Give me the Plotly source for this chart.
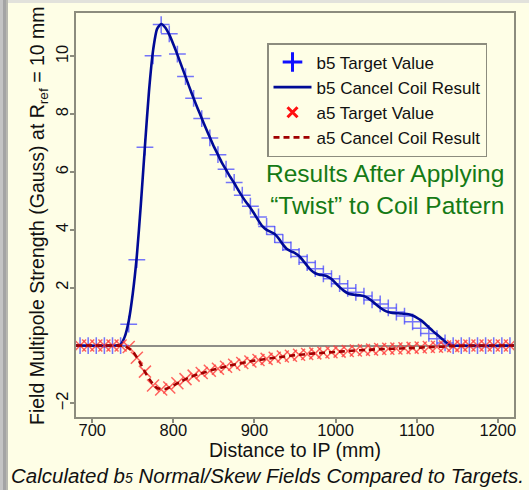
import plotly.graph_objects as go

# Sample positions of the target values (mm from IP)
target_z = [685, 695, 705, 715, 725, 735, 745, 755, 765, 775, 785, 795, 805, 815,
            825, 835, 845, 855, 865, 875, 885, 895, 905, 915, 925, 935, 945, 955,
            965, 975, 985, 995, 1005, 1015, 1025, 1035, 1045, 1055, 1065, 1075,
            1085, 1095, 1105, 1115, 1125, 1135, 1145, 1155, 1165, 1175, 1185,
            1195, 1205, 1215]

# Normal (b5) target values, Gauss
b5_target = [0, 0, 0, 0, 0, 0, 0.74, 2.97, 6.86, 10.02, 11.1, 10.78, 10.08, 9.3,
             8.55, 7.85, 7.18, 6.6, 6.1, 5.64, 5.2, 4.82, 4.45, 4.12, 3.84, 3.56,
             3.31, 3.08, 2.87, 2.66, 2.48, 2.31, 2.14, 1.98, 1.84, 1.71, 1.58, 1.44,
             1.3, 1.16, 1.02, 0.82, 0.6, 0.42, 0.24, 0.09, 0, 0, 0, 0, 0, 0, 0, 0]

# Skew (a5) target values, Gauss
a5_target = [0, 0, 0, 0, 0, 0, -0.05, -0.42, -0.9, -1.38, -1.52, -1.45, -1.3, -1.16,
             -1.04, -0.95, -0.87, -0.8, -0.73, -0.66, -0.6, -0.55, -0.5, -0.46, -0.42,
             -0.38, -0.35, -0.32, -0.29, -0.27, -0.25, -0.23, -0.21, -0.19, -0.17,
             -0.15, -0.14, -0.12, -0.11, -0.1, -0.09, -0.08, -0.07, -0.05, -0.04,
             -0.03, -0.02, -0.01, 0, 0, 0, 0, 0, 0]

# b5 produced by the cancel coil
b5_coil_z = [680, 730, 735, 740, 745, 750, 755, 760, 765, 770, 775, 780, 785, 790,
             795, 800, 805, 810, 815, 820, 825, 830, 835, 840, 845, 850, 855, 860,
             865, 870, 875, 880, 885, 890, 895, 900, 905, 910, 915, 920, 925, 930,
             935, 940, 945, 950, 955, 960, 965, 970, 975, 980, 985, 990, 995, 1000,
             1005, 1010, 1015, 1020, 1025, 1030, 1035, 1040, 1045, 1050, 1055, 1060,
             1065, 1070, 1075, 1080, 1085, 1090, 1095, 1100, 1105, 1110, 1115, 1120,
             1125, 1130, 1135, 1140, 1145, 1220]
b5_coil = [0, 0, 0.04, 0.3, 0.85, 1.8, 3.1, 4.9, 6.9, 8.8, 10.2, 10.95, 11.12, 11.0,
           10.75, 10.42, 10.06, 9.68, 9.3, 8.92, 8.55, 8.2, 7.86, 7.52, 7.2, 6.88,
           6.6, 6.32, 6.08, 5.84, 5.62, 5.38, 5.15, 4.95, 4.77, 4.55, 4.32, 4.12,
           4.0, 3.93, 3.86, 3.7, 3.5, 3.34, 3.26, 3.2, 3.1, 2.94, 2.76, 2.6, 2.5,
           2.45, 2.43, 2.39, 2.3, 2.16, 2.02, 1.9, 1.81, 1.77, 1.75, 1.74, 1.71,
           1.64, 1.54, 1.42, 1.31, 1.22, 1.16, 1.13, 1.12, 1.11, 1.1, 1.08, 1.04,
           0.97, 0.88, 0.76, 0.63, 0.5, 0.38, 0.26, 0.14, 0.04, 0, 0]

# a5 produced by the cancel coil
a5_coil_z = [680, 690, 700, 710, 720, 730, 740, 750, 760, 770, 780, 790, 800, 810,
             820, 830, 840, 850, 860, 870, 880, 890, 900, 910, 920, 930, 940, 950,
             960, 970, 980, 990, 1000, 1010, 1020, 1030, 1040, 1050, 1060, 1070,
             1080, 1090, 1100, 1110, 1120, 1130, 1140, 1150, 1160, 1170, 1180, 1190,
             1200, 1210, 1220]
a5_coil = [0, 0, 0, 0, 0, 0, -0.02, -0.2, -0.65, -1.15, -1.47, -1.5, -1.38, -1.23,
           -1.1, -1.0, -0.91, -0.83, -0.76, -0.69, -0.63, -0.57, -0.52, -0.48, -0.44,
           -0.4, -0.37, -0.33, -0.31, -0.28, -0.26, -0.24, -0.22, -0.2, -0.18, -0.16,
           -0.15, -0.13, -0.12, -0.11, -0.1, -0.09, -0.08, -0.06, -0.05, -0.04, -0.02,
           -0.01, 0, 0, 0, 0, 0, 0, 0]

x_ticks = [700, 800, 900, 1000, 1100, 1200]
y_ticks = [-2, 2, 4, 6, 8, 10]

BG = "#FEFEE6"
FRAME = "#8C8C7E"
FONT = "Liberation Sans, Arial, sans-serif"

B5_MARK = "rgba(70,70,255,0.75)"
A5_MARK = "rgba(255,60,60,0.8)"
B5_LINE = "#000A96"
A5_LINE = "#A00000"

# plot-area geometry in pixels, used to place page decorations
L, R, T, B = 76, 15, 13, 73
W, H = 529, 490
PW, PH = W - L - R, H - T - B


def px(x):
    return (x - L) / PW


def py(y):
    return (H - B - y) / PH


fig = go.Figure()

# data traces (legend keys are drawn by the key-only traces below)
fig.add_trace(go.Scatter(
    x=target_z, y=b5_target, mode="markers", showlegend=False,
    marker=dict(symbol="cross-thin", size=12, line=dict(color=B5_MARK, width=1.5)),
))
fig.add_trace(go.Scatter(
    x=b5_coil_z, y=b5_coil, mode="lines", showlegend=False,
    line=dict(color=B5_LINE, width=2.6, shape="spline", smoothing=0.6),
))
fig.add_trace(go.Scatter(
    x=target_z, y=a5_target, mode="markers", showlegend=False,
    marker=dict(symbol="x-thin", size=12, line=dict(color=A5_MARK, width=1.5)),
))
fig.add_trace(go.Scatter(
    x=a5_coil_z, y=a5_coil, mode="lines", showlegend=False,
    line=dict(color=A5_LINE, width=2.6, dash="6px,4px", shape="spline",
              smoothing=0.6),
))

# legend keys with bold symbols
fig.add_trace(go.Scatter(
    x=[None], y=[None], mode="markers", name="b5 Target Value",
    marker=dict(symbol="cross-thin", size=14, line=dict(color="#1010FF", width=3)),
))
fig.add_trace(go.Scatter(
    x=[None], y=[None], mode="lines", name="b5 Cancel Coil Result",
    line=dict(color=B5_LINE, width=2.6),
))
fig.add_trace(go.Scatter(
    x=[None], y=[None], mode="markers", name="a5 Target Value",
    marker=dict(symbol="x-thin", size=10, line=dict(color="#FF1010", width=3)),
))
fig.add_trace(go.Scatter(
    x=[None], y=[None], mode="lines", name="a5 Cancel Coil Result",
    line=dict(color=A5_LINE, width=2.6, dash="6px,4px"),
))

shapes = [
    # drop shadow along the left and top page edges
    dict(type="rect", xref="paper", yref="paper", x0=px(0), x1=px(3),
         y0=py(H), y1=py(0), fillcolor="#C4C4C4", line_width=0, layer="below"),
    dict(type="rect", xref="paper", yref="paper", x0=px(3), x1=px(6),
         y0=py(H), y1=py(0), fillcolor="#A4A4A4", line_width=0, layer="below"),
    dict(type="rect", xref="paper", yref="paper", x0=px(6), x1=px(8),
         y0=py(H), y1=py(0), fillcolor="#B8B8B0", line_width=0, layer="below"),
    dict(type="rect", xref="paper", yref="paper", x0=px(8), x1=px(W),
         y0=py(3), y1=py(0), fillcolor="#E2E2DC", line_width=0, layer="below"),
]

annotations = [
    dict(text="Field Multipole Strength (Gauss) at R<sub>ref</sub> = 10 mm",
         xref="paper", yref="paper", x=px(38), y=py(216), textangle=-90,
         xanchor="center", yanchor="middle", showarrow=False,
         font=dict(size=19.5, color="#111", family=FONT)),
    dict(text="Distance to IP (mm)", xref="paper", yref="paper",
         x=px(295), y=py(450), xanchor="center", yanchor="middle",
         showarrow=False, font=dict(size=19.5, color="#111", family=FONT)),
    dict(text="<i>Calculated b<span style='font-size:14px'>5</span> "
              "Normal/Skew Fields Compared to Targets.</i>",
         xref="paper", yref="paper", x=px(267), y=py(476),
         xanchor="center", yanchor="middle", showarrow=False,
         font=dict(size=20.5, color="#111", family=FONT)),
    dict(text="Results After Applying<br>\u201cTwist\u201d to Coil Pattern",
         xref="paper", yref="paper", x=px(506), y=py(190), align="right",
         xanchor="right", yanchor="middle", showarrow=False,
         font=dict(size=24.5, color="#157A15", family=FONT)),
]

axis_common = dict(
    showline=True, mirror=True, linecolor=FRAME, linewidth=2,
    showgrid=False, ticks="outside", ticklen=4, tickwidth=1.5,
    tickcolor=FRAME, tickfont=dict(size=16.5, color="#111", family=FONT),
    automargin=False,
)

fig.update_layout(
    width=W, height=H,
    margin=dict(l=L, r=R, t=T, b=B),
    paper_bgcolor=BG, plot_bgcolor=BG,
    font=dict(family=FONT, color="#111"),
    showlegend=True,
    legend=dict(x=px(267), y=py(43), xanchor="left", yanchor="top",
                bgcolor=BG, bordercolor=FRAME, borderwidth=1.5,
                font=dict(size=17, color="#111", family=FONT),
                itemwidth=38, tracegroupgap=0),
    xaxis=dict(range=[680, 1220], tickvals=x_ticks, zeroline=False,
               ticklabelstandoff=-7, **axis_common),
    yaxis=dict(range=[-2.47, 11.5], tickvals=y_ticks, tickangle=-90,
               zeroline=True, zerolinecolor="#8E8E88", zerolinewidth=2,
               ticklabelstandoff=-5, **axis_common),
    shapes=shapes,
    annotations=annotations,
)

fig.write_html("out.html")
